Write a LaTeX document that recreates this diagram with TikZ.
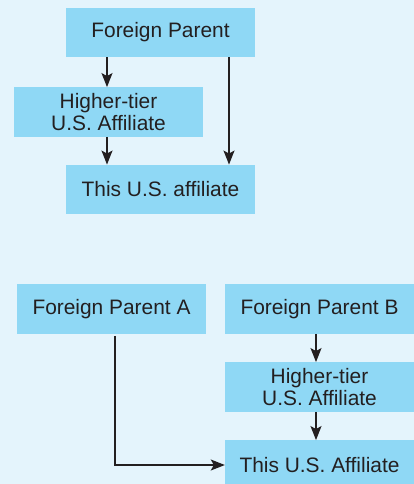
\documentclass[tikz,border=0pt]{standalone}
\usepackage{fontspec}
\setmainfont{Liberation Sans}
\usetikzlibrary{arrows.meta}
\definecolor{bg}{HTML}{E4F4FC}
\definecolor{boxc}{HTML}{8FD8F5}
\definecolor{ink}{HTML}{231F20}
\begin{document}
\begin{tikzpicture}[x=1pt,y=-1pt,
  box/.style={fill=boxc,draw=none,minimum width=189pt,minimum height=49.5pt,inner sep=0pt,
    align=center,text=ink,font=\fontsize{20.9pt}{21.5pt}\selectfont},
  arr/.style={draw=ink,line width=1.3pt,-{Stealth[length=14pt,width=11pt,inset=3pt]}}]
\useasboundingbox (0,0) rectangle (414,484);
\fill[bg] (0,0) rectangle (414,484);
% top diagram
\node[box] (fp) at (160.5,32.5) {Foreign Parent};
\node[box] (ht) at (108.5,112) {Higher-tier\\U.S. Affiliate};
\node[box] (ta) at (160.5,189.5) {This U.S. affiliate};
\coordinate (xl) at (107,0);
\coordinate (xr) at (229,0);
\draw[arr] (xl |- fp.south) -- (xl |- ht.north);
\draw[arr] (xl |- ht.south) -- (xl |- ta.north);
\draw[arr] (xr |- fp.south) -- (xr |- ta.north);
% bottom diagram
\node[box] (fpa) at (111.5,309) {Foreign Parent A};
\node[box] (fpb) at (319.5,309) {Foreign Parent B};
\node[box] (ht2) at (319.5,387) {Higher-tier\\U.S. Affiliate};
\node[box] (ta2) at (319.5,465) {This U.S. Affiliate};
\coordinate (xb) at (316,0);
\coordinate (xa) at (115,0);
\draw[arr] (xb |- fpb.south) -- (xb |- ht2.north);
\draw[arr] (xb |- ht2.south) -- (xb |- ta2.north);
\draw[arr] ([yshift=-2pt]xa |- fpa.south) |- (ta2.west);
\end{tikzpicture}
\end{document}
